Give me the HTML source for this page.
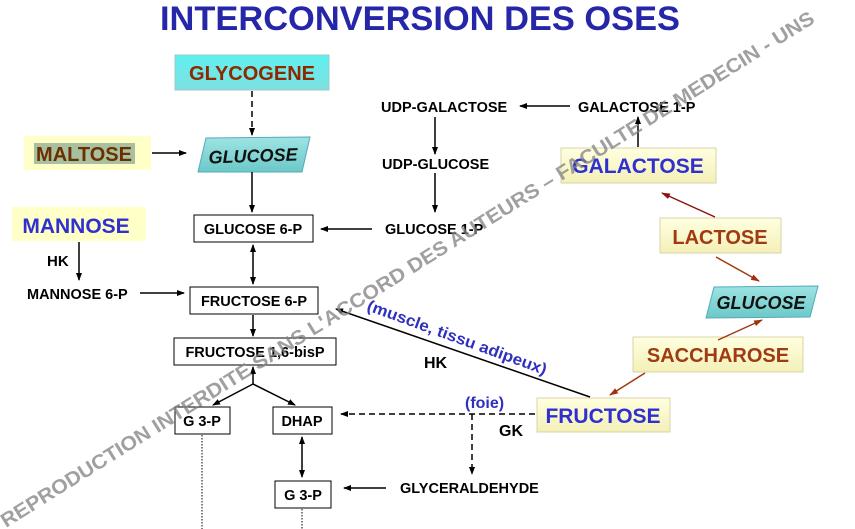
<!DOCTYPE html>
<html><head><meta charset="utf-8"><style>
html,body{margin:0;padding:0;background:#fff;}
svg{display:block;}
text{font-family:"Liberation Sans",Arial,sans-serif;font-weight:bold;}
</style></head><body>
<svg width="855" height="529" viewBox="0 0 855 529" xmlns="http://www.w3.org/2000/svg">
<defs>
<marker id="a" markerWidth="8" markerHeight="8" refX="7" refY="4" orient="auto" markerUnits="userSpaceOnUse"><path d="M0,1 L8,4 L0,7 Z" fill="#000"/></marker>
<marker id="as" markerWidth="8" markerHeight="8" refX="1" refY="4" orient="auto" markerUnits="userSpaceOnUse"><path d="M8,1 L0,4 L8,7 Z" fill="#000"/></marker>
<marker id="r" markerWidth="9" markerHeight="8" refX="8" refY="4" orient="auto" markerUnits="userSpaceOnUse"><path d="M0,1 L9,4 L0,7 Z" fill="#a03010"/></marker>
<marker id="dr" markerWidth="9" markerHeight="8" refX="8" refY="4" orient="auto" markerUnits="userSpaceOnUse"><path d="M0,1 L9,4 L0,7 Z" fill="#901010"/></marker>
<linearGradient id="cy" x1="0" y1="0" x2="0" y2="1"><stop offset="0" stop-color="#5ff0f0"/><stop offset="1" stop-color="#7fe0e0"/></linearGradient>
<linearGradient id="tl" x1="0" y1="0" x2="0" y2="1"><stop offset="0" stop-color="#9ee4e4"/><stop offset="1" stop-color="#6cc8c8"/></linearGradient>
<linearGradient id="yl" x1="0" y1="0" x2="0" y2="1"><stop offset="0" stop-color="#ffffe0"/><stop offset="1" stop-color="#f4f0b8"/></linearGradient>
</defs>

<text x="420" y="30" text-anchor="middle" font-size="34" fill="#2626a8" textLength="520" lengthAdjust="spacingAndGlyphs">INTERCONVERSION DES OSES</text>

<rect x="175" y="55" width="154" height="35" fill="url(#cy)" stroke="#a0c8c8"/>
<text x="252" y="80" text-anchor="middle" font-size="20" fill="#8b2a00">GLYCOGENE</text>
<line x1="252" y1="91" x2="252" y2="135" stroke="#000" stroke-width="1.5" stroke-dasharray="6,4" marker-end="url(#a)"/>

<rect x="24" y="136" width="127" height="34" fill="#ffffc8"/>
<rect x="34" y="143" width="101" height="21" fill="#a8c0a0"/>
<text x="84" y="161" text-anchor="middle" font-size="20" fill="#6b3000">MALTOSE</text>
<line x1="152" y1="153" x2="186" y2="153" stroke="#000" stroke-width="1.5" marker-end="url(#a)"/>

<polygon points="206,138 310,137 302,172 198,172" fill="url(#tl)" stroke="#5ab"/>
<text x="253" y="162" text-anchor="middle" font-size="18" font-style="italic" fill="#111" transform="rotate(-2 253 155)">GLUCOSE</text>
<line x1="252" y1="172" x2="252" y2="212" stroke="#000" stroke-width="1.5" marker-end="url(#a)"/>

<rect x="194" y="215" width="119" height="27" fill="#fff" stroke="#000"/>
<text x="253" y="234" text-anchor="middle" font-size="14.5" fill="#000">GLUCOSE 6-P</text>
<line x1="372" y1="229" x2="321" y2="229" stroke="#000" stroke-width="1.5" marker-end="url(#a)"/>

<rect x="12" y="207" width="134" height="34" fill="#ffffc8"/>
<text x="76" y="233" text-anchor="middle" font-size="21" fill="#3030d0">MANNOSE</text>
<text x="47" y="266" font-size="15" fill="#000">HK</text>
<line x1="79" y1="242" x2="79" y2="280" stroke="#000" stroke-width="1.5" marker-end="url(#a)"/>
<text x="27" y="299" font-size="14.5" fill="#000">MANNOSE 6-P</text>
<line x1="140" y1="293" x2="184" y2="293" stroke="#000" stroke-width="1.5" marker-end="url(#a)"/>

<line x1="253" y1="245" x2="253" y2="284" stroke="#000" stroke-width="1.5" marker-start="url(#as)" marker-end="url(#a)"/>
<rect x="190" y="287" width="128" height="27" fill="#fff" stroke="#000"/>
<text x="254" y="306" text-anchor="middle" font-size="14.5" fill="#000">FRUCTOSE 6-P</text>
<line x1="253" y1="315" x2="253" y2="336" stroke="#000" stroke-width="1.5" marker-end="url(#a)"/>

<rect x="174" y="338" width="162" height="27" fill="#fff" stroke="#000"/>
<text x="255" y="357" text-anchor="middle" font-size="14.5" fill="#000">FRUCTOSE 1,6-bisP</text>

<line x1="253" y1="384" x2="253" y2="367" stroke="#000" stroke-width="1.5" marker-end="url(#a)"/>
<line x1="253" y1="384" x2="213" y2="405" stroke="#000" stroke-width="1.5" marker-end="url(#a)"/>
<line x1="253" y1="384" x2="295" y2="405" stroke="#000" stroke-width="1.5" marker-end="url(#a)"/>

<rect x="175" y="407" width="55" height="27" fill="#fff" stroke="#000"/>
<text x="202" y="426" text-anchor="middle" font-size="14.5" fill="#000">G 3-P</text>
<rect x="273" y="407" width="59" height="27" fill="#fff" stroke="#000"/>
<text x="302" y="426" text-anchor="middle" font-size="14.5" fill="#000">DHAP</text>
<line x1="202" y1="435" x2="202" y2="529" stroke="#000" stroke-width="1" stroke-dasharray="1.5,1.5"/>
<line x1="302" y1="437" x2="302" y2="477" stroke="#000" stroke-width="1.5" marker-start="url(#as)" marker-end="url(#a)"/>
<rect x="275" y="481" width="56" height="27" fill="#fff" stroke="#000"/>
<text x="303" y="500" text-anchor="middle" font-size="14.5" fill="#000">G 3-P</text>
<line x1="302" y1="509" x2="302" y2="529" stroke="#000" stroke-width="1" stroke-dasharray="1.5,1.5"/>

<text x="400" y="493" font-size="14.5" fill="#000">GLYCERALDEHYDE</text>
<line x1="386" y1="488" x2="344" y2="488" stroke="#000" stroke-width="1.5" marker-end="url(#a)"/>

<line x1="535" y1="414" x2="341" y2="414" stroke="#000" stroke-width="1.5" stroke-dasharray="6,4" marker-end="url(#a)"/>
<line x1="472" y1="414" x2="472" y2="474" stroke="#000" stroke-width="1.5" stroke-dasharray="6,4" marker-end="url(#a)"/>
<text x="465" y="408" font-size="16" fill="#3030c0">(foie)</text>
<text x="499" y="436" font-size="16" fill="#000">GK</text>

<rect x="537" y="398" width="133" height="34" fill="url(#yl)" stroke="#d8d4a8"/>
<text x="603" y="423" text-anchor="middle" font-size="21" fill="#3030d0">FRUCTOSE</text>
<line x1="590" y1="397" x2="336" y2="309" stroke="#000" stroke-width="1.5" marker-end="url(#a)"/>
<text x="0" y="0" font-size="16" fill="#3030c0" transform="translate(366 310) rotate(20)" textLength="190" lengthAdjust="spacingAndGlyphs">(muscle, tissu adipeux)</text>
<text x="424" y="368" font-size="16" fill="#000">HK</text>

<rect x="633" y="337" width="170" height="35" fill="url(#yl)" stroke="#d8d4a8"/>
<text x="718" y="362" text-anchor="middle" font-size="20" fill="#a03a10">SACCHAROSE</text>
<line x1="645" y1="373" x2="610" y2="395" stroke="#a03a10" stroke-width="1.5" marker-end="url(#r)"/>
<line x1="718" y1="340" x2="762" y2="320" stroke="#a03a10" stroke-width="1.5" marker-end="url(#r)"/>

<polygon points="714,287 818,286 810,317 706,318" fill="url(#tl)" stroke="#5ab"/>
<text x="761" y="309" text-anchor="middle" font-size="18" font-style="italic" fill="#111">GLUCOSE</text>

<rect x="660" y="218" width="121" height="35" fill="url(#yl)" stroke="#d8d4a8"/>
<text x="720" y="244" text-anchor="middle" font-size="20" fill="#a03a10">LACTOSE</text>
<line x1="716" y1="257" x2="759" y2="281" stroke="#a03a10" stroke-width="1.5" marker-end="url(#r)"/>
<line x1="715" y1="217" x2="662" y2="193" stroke="#901010" stroke-width="1.5" marker-end="url(#dr)"/>

<rect x="561" y="148" width="155" height="35" fill="url(#yl)" stroke="#d8d4a8"/>
<text x="638" y="173" text-anchor="middle" font-size="21" fill="#3030d0">GALACTOSE</text>
<line x1="638" y1="147" x2="638" y2="117" stroke="#000" stroke-width="1.5" marker-end="url(#a)"/>

<text x="578" y="112" font-size="14.5" fill="#000">GALACTOSE 1-P</text>
<line x1="570" y1="106" x2="520" y2="106" stroke="#000" stroke-width="1.5" marker-end="url(#a)"/>
<text x="381" y="112" font-size="14.5" fill="#000">UDP-GALACTOSE</text>
<line x1="435" y1="117" x2="435" y2="154" stroke="#000" stroke-width="1.5" marker-end="url(#a)"/>
<text x="382" y="169" font-size="14.5" fill="#000">UDP-GLUCOSE</text>
<line x1="435" y1="173" x2="435" y2="212" stroke="#000" stroke-width="1.5" marker-end="url(#a)"/>
<text x="385" y="234" font-size="14.5" fill="#000">GLUCOSE 1-P</text>

<text x="0" y="0" font-size="20" fill="#808080" fill-opacity="0.75" transform="translate(6 528) rotate(-32)" textLength="955" lengthAdjust="spacingAndGlyphs">REPRODUCTION INTERDITE SANS L'ACCORD DES AUTEURS – FACULTE DE MEDECIN - UNS</text>
</svg>
</body></html>
